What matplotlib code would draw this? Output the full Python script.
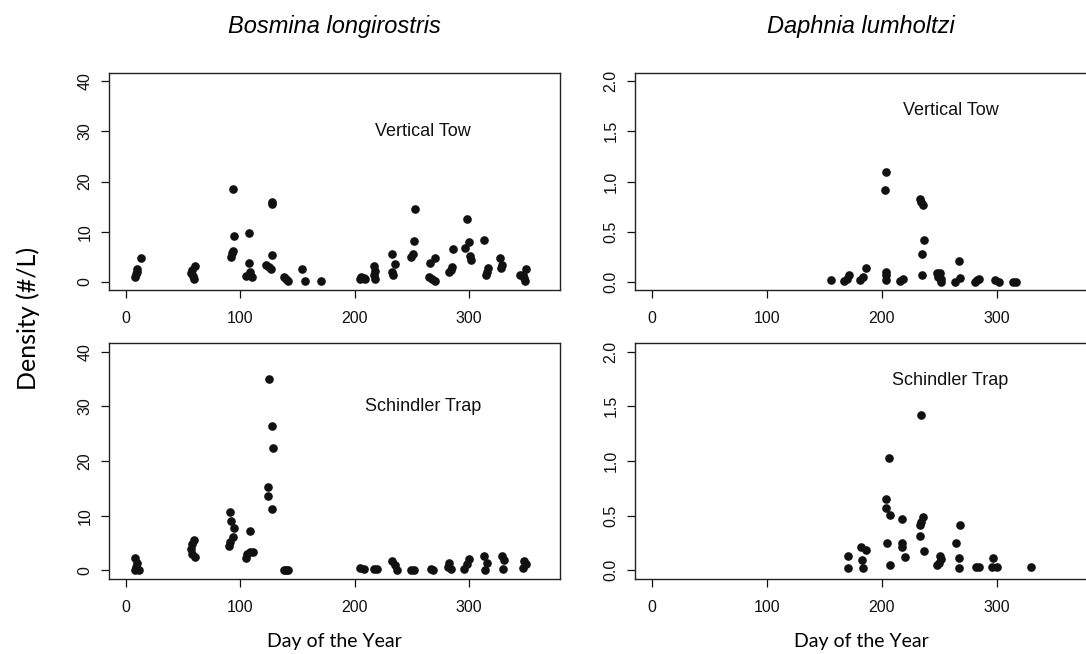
import numpy as np
import matplotlib
matplotlib.use("Agg")
import matplotlib.pyplot as plt

# Bosmina longirostris - vertical tow
bos_vt_day = [8, 9, 10, 10, 13, 57, 58, 60, 61, 59, 92, 93, 94, 95, 94,
              105, 108, 108, 109, 110, 123, 125, 127, 128, 128, 128,
              138, 140, 142, 154, 157, 171, 205, 206, 208, 209,
              217, 218, 217, 218, 233, 235, 233, 234, 249, 251, 252, 253,
              266, 270, 265, 268, 270, 283, 285, 286, 284,
              297, 298, 300, 301, 302, 313, 315, 316, 317, 327, 329, 328,
              347, 348, 349, 350, 345]
bos_vt_dens = [1.0, 1.5, 2.0, 2.6, 4.8, 1.7, 2.3, 0.5, 3.1, 1.2, 5.0, 5.7, 6.2, 9.2, 18.6,
               1.1, 3.7, 9.7, 2.0, 1.0, 3.3, 2.9, 2.5, 5.4, 15.5, 16.0,
               0.9, 0.5, 0.2, 2.5, 0.2, 0.2, 0.6, 0.9, 0.7, 0.5,
               3.1, 2.2, 1.3, 0.5, 5.5, 3.5, 2.0, 1.3, 5.0, 5.6, 8.1, 14.6,
               3.8, 4.8, 1.0, 0.5, 0.2, 2.0, 2.9, 6.5, 2.3,
               6.7, 12.5, 8.0, 5.1, 4.4, 8.3, 1.3, 2.0, 2.7, 4.7, 3.3, 2.7,
               1.4, 0.7, 0.2, 2.5, 1.4]

# Bosmina longirostris - Schindler trap
bos_st_day = [8, 10, 8, 12, 9, 60, 58, 57, 58, 61, 91, 92, 95, 94, 90, 91,
              109, 109, 106, 105, 111, 125, 128, 129, 124, 124, 128,
              138, 140, 142, 205, 208, 217, 220, 233, 235, 237, 249, 252,
              267, 269, 283, 284, 282, 300, 298, 296, 313, 316, 314,
              329, 331, 330, 348, 347, 350]
bos_st_dens = [2.3, 1.4, 0.0, 0.1, 0.6, 5.5, 4.8, 3.9, 3.0, 2.5, 10.7, 9.0, 7.7, 6.0, 4.5, 5.1,
               7.1, 3.4, 3.0, 2.2, 3.3, 35.0, 26.4, 22.3, 15.2, 13.6, 11.3,
               0.1, 0.0, 0.1, 0.4, 0.3, 0.3, 0.3, 1.7, 1.0, 0.1, 0.1, 0.1,
               0.2, 0.1, 1.4, 0.2, 0.6, 2.0, 1.2, 0.3, 2.7, 1.4, 0.1,
               2.6, 1.8, 0.2, 1.7, 0.5, 1.2]

# Daphnia lumholtzi - vertical tow
dap_vt_day = [156, 167, 170, 172, 181, 184, 186, 204, 203, 204, 204, 204,
              216, 219, 233, 234, 236, 237, 235, 235, 248, 251, 252, 249, 252,
              267, 268, 264, 283, 285, 281, 299, 302, 314, 317]
dap_vt_dens = [0.02, 0.01, 0.03, 0.07, 0.02, 0.05, 0.14, 1.09, 0.92, 0.07, 0.10, 0.02,
               0.01, 0.03, 0.83, 0.80, 0.77, 0.42, 0.28, 0.07, 0.09, 0.09, 0.03, 0.05, 0.0,
               0.21, 0.04, 0.0, 0.02, 0.03, 0.0, 0.02, 0.0, 0.0, 0.0]

# Daphnia lumholtzi - Schindler trap
dap_st_day = [171, 171, 182, 186, 183, 184, 204, 204, 207, 206, 205, 207,
              218, 218, 218, 220, 234, 236, 234, 233, 233, 237,
              251, 248, 250, 252, 268, 265, 267, 267, 282, 285, 297, 296, 300, 330]
dap_st_dens = [0.13, 0.02, 0.21, 0.19, 0.09, 0.02, 0.65, 0.57, 0.51, 1.03, 0.25, 0.05,
               0.47, 0.25, 0.21, 0.12, 1.42, 0.49, 0.44, 0.41, 0.31, 0.18,
               0.13, 0.05, 0.07, 0.10, 0.41, 0.25, 0.11, 0.02, 0.03, 0.03, 0.11, 0.03, 0.03, 0.03]

W, H = 1086, 654
fig = plt.figure(figsize=(W / 100, H / 100), dpi=100)


def make_ax(left, right, top, bottom):
    return fig.add_axes([left / W, 1 - bottom / H, (right - left) / W, (bottom - top) / H])


def style_ax(ax, ymax, yticks, ylabels, label, label_y):
    ax.set_xlim(-14.6, 379.6)
    ax.set_ylim(-0.04 * ymax, 1.04 * ymax)
    ax.set_xticks([0, 100, 200, 300])
    ax.set_yticks(yticks)
    ax.set_yticklabels(ylabels, rotation=90, va='center')
    ax.tick_params(direction='out', length=6, width=0.9, labelsize=11.5, colors='#111111')
    ax.tick_params(axis='x', pad=9)
    ax.tick_params(axis='y', pad=6)
    for lab in ax.get_xticklabels() + ax.get_yticklabels():
        lab.set_family('Liberation Sans')
    for s in ax.spines.values():
        s.set_linewidth(1.0)
        s.set_color('#222222')
    ax.text(260, label_y, label, ha='center', va='center', fontsize=13,
            family='Liberation Sans', color='#111111')


panels = [
    (make_ax(109, 560, 73, 290), bos_vt_day, bos_vt_dens, 40, 'Vertical Tow', 30),
    (make_ax(109, 560, 343, 579), bos_st_day, bos_st_dens, 40, 'Schindler Trap', 30),
    (make_ax(635, 1088, 73, 290), dap_vt_day, dap_vt_dens, 2, 'Vertical Tow', 1.71),
    (make_ax(635, 1088, 343, 579), dap_st_day, dap_st_dens, 2, 'Schindler Trap', 1.74),
]

for ax, day, dens, ymax, label, ly in panels:
    ax.plot(day, dens, 'o', color='#111111', ms=5.2, mec='#111111', clip_on=False)
    if ymax == 40:
        style_ax(ax, 40, [0, 10, 20, 30, 40], ['0', '10', '20', '30', '40'], label, ly)
    else:
        style_ax(ax, 2, [0, 0.5, 1.0, 1.5, 2.0], ['0.0', '0.5', '1.0', '1.5', '2.0'], label, ly)

fig.text(334 / W, 1 - 26 / H, 'Bosmina longirostris', ha='center', va='center',
         fontsize=17, style='italic', family='Liberation Sans')
fig.text(861 / W, 1 - 26 / H, 'Daphnia lumholtzi', ha='center', va='center',
         fontsize=17, style='italic', family='Liberation Sans')
fig.text(334 / W, 1 - 641 / H, 'Day of the Year', ha='center', va='center',
         fontsize=14, family='Lato')
fig.text(861 / W, 1 - 641 / H, 'Day of the Year', ha='center', va='center',
         fontsize=14, family='Lato')
fig.text(28 / W, 1 - 318 / H, 'Density (#/L)', ha='center', va='center',
         rotation=90, fontsize=18, family='Lato')

fig.savefig('out.png', dpi=100)
